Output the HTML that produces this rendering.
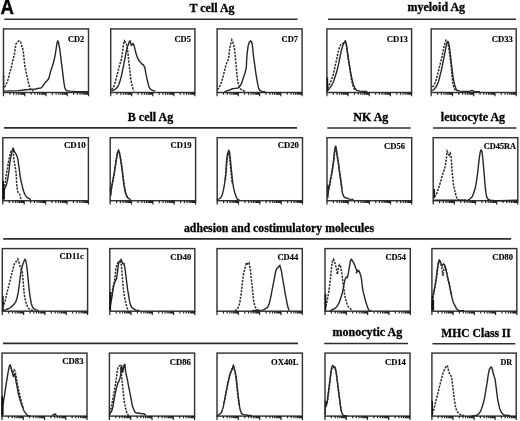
<!DOCTYPE html>
<html><head><meta charset="utf-8"><title>Flow cytometry histograms</title>
<style>
html,body{margin:0;padding:0;background:#fff;}
body{width:520px;height:421px;overflow:hidden;}
svg{display:block;filter:grayscale(1);}
.hl{stroke:#2e2e2e;stroke-width:1.6;}
.hd{font-family:"Liberation Serif",serif;font-weight:bold;font-size:12px;fill:#000;stroke:#000;stroke-width:0.3;}
.A{font-family:"Liberation Sans",sans-serif;font-weight:bold;font-size:20.6px;fill:#000;stroke:#000;stroke-width:0.45;}
.bx{fill:none;stroke:#333;stroke-width:1.45;}
.tk{fill:none;stroke:#222;stroke-width:1.2;}
.lb{font-family:"Liberation Serif",serif;font-weight:bold;fill:#000;stroke:#000;stroke-width:0.15;}
.cs{fill:none;stroke:#262626;stroke-width:1.4;stroke-linejoin:round;}
.cd{fill:none;stroke:#2a2a2a;stroke-width:1.5;stroke-dasharray:2.2 1.2;}
.cv{fill:none;stroke:#111;stroke-width:1.4;}
</style></head>
<body>
<svg width="520" height="421" viewBox="0 0 520 421">
<line x1="4.3" y1="19.2" x2="297.6" y2="19.2" class="hl"/>
<line x1="328" y1="19.3" x2="516" y2="19.3" class="hl"/>
<line x1="4" y1="127.9" x2="297" y2="127.9" class="hl"/>
<line x1="327.3" y1="128" x2="410.6" y2="128" class="hl"/>
<line x1="433" y1="128" x2="516.3" y2="128" class="hl"/>
<line x1="3.2" y1="238.9" x2="511.2" y2="238.9" class="hl"/>
<line x1="3" y1="343.4" x2="298" y2="343.4" class="hl"/>
<line x1="324.2" y1="343.5" x2="408" y2="343.5" class="hl"/>
<line x1="432.5" y1="343.7" x2="515.3" y2="343.7" class="hl"/>
<text x="189.5" y="11.5" class="hd">T cell Ag</text>
<text x="407.4" y="10.8" class="hd">myeloid Ag</text>
<text x="127.8" y="120.9" class="hd">B cell Ag</text>
<text x="353.3" y="120.8" class="hd">NK Ag</text>
<text x="440.8" y="121" class="hd">leucocyte Ag</text>
<text x="184" y="232" class="hd" textLength="190.0" lengthAdjust="spacingAndGlyphs">adhesion and costimulatory molecules</text>
<text x="332.5" y="336.4" class="hd">monocytic Ag</text>
<text x="441.3" y="336.9" class="hd" textLength="69.6" lengthAdjust="spacingAndGlyphs">MHC Class II</text>
<text transform="translate(0.55 14.25) scale(0.9 1)" class="A">A</text>
<rect x="3.5" y="28.9" width="85" height="63.6" class="bx"/>
<path d="M3.5 92.5v3.8M9.9 92.5v2.2M13.64 92.5v2.2M16.29 92.5v2.2M18.35 92.5v2.2M20.04 92.5v2.2M21.46 92.5v2.2M22.69 92.5v2.2M23.78 92.5v2.2M24.75 92.5v3.8M31.15 92.5v2.2M34.89 92.5v2.2M37.54 92.5v2.2M39.6 92.5v2.2M41.29 92.5v2.2M42.71 92.5v2.2M43.94 92.5v2.2M45.03 92.5v2.2M46 92.5v3.8M52.4 92.5v2.2M56.14 92.5v2.2M58.79 92.5v2.2M60.85 92.5v2.2M62.54 92.5v2.2M63.96 92.5v2.2M65.19 92.5v2.2M66.28 92.5v2.2M67.25 92.5v3.8M73.65 92.5v2.2M77.39 92.5v2.2M80.04 92.5v2.2M82.1 92.5v2.2M83.79 92.5v2.2M85.21 92.5v2.2M86.44 92.5v2.2M87.53 92.5v2.2M88.5 92.5v3.8" class="tk"/>
<text x="67.98" y="41.71" class="lb" style="font-size:8.55px" textLength="16.29" lengthAdjust="spacingAndGlyphs">CD2</text>
<polyline points="3.6,75.7 3.6,88 5.2,86.2 6.8,83 8.5,78.2 9.7,72.5 11.3,67.7 12.5,62 13.3,58.6 14.5,53.8 15.3,48.1 15.9,44.1 17.3,42.1 19,40.8 20.6,41.7 21.4,44.9 23.2,50.5 23.8,56.2 24.5,62.7 25,66.8 26.2,72.5 27.4,78.2 28.7,83.8 29.9,87.8 31.1,89.9 33.5,91.1" class="cd"/>
<polyline points="3.6,91.1 18.2,90.6 22.2,90.2 25.4,89.8 31.1,89.4 36,89.03 38.07,88.34 40.82,88.07 42.2,86.96 43.58,84.9 44.95,82.83 47.02,80.77 48.67,78.7 49.5,75.94 50.46,71.81 51.84,67.68 53.22,63.55 54.6,58.04 55.56,52.53 56.39,47.02 57.07,42.89 57.76,40.82 58.45,42.2 59.14,45.64 59.83,49.77 60.52,55.28 61.21,60.79 61.9,66.3 62.58,71.81 63.27,77.32 63.96,82.83 64.65,86.96 65.61,89.72 66.99,90.82 70.02,91.1 75,91.4 88,91.6" class="cs"/>
<rect x="110.7" y="28.9" width="84.2" height="63.6" class="bx"/>
<path d="M110.7 92.5v3.8M117.04 92.5v2.2M120.74 92.5v2.2M123.37 92.5v2.2M125.41 92.5v2.2M127.08 92.5v2.2M128.49 92.5v2.2M129.71 92.5v2.2M130.79 92.5v2.2M131.75 92.5v3.8M138.09 92.5v2.2M141.79 92.5v2.2M144.42 92.5v2.2M146.46 92.5v2.2M148.13 92.5v2.2M149.54 92.5v2.2M150.76 92.5v2.2M151.84 92.5v2.2M152.8 92.5v3.8M159.14 92.5v2.2M162.84 92.5v2.2M165.47 92.5v2.2M167.51 92.5v2.2M169.18 92.5v2.2M170.59 92.5v2.2M171.81 92.5v2.2M172.89 92.5v2.2M173.85 92.5v3.8M180.19 92.5v2.2M183.89 92.5v2.2M186.52 92.5v2.2M188.56 92.5v2.2M190.23 92.5v2.2M191.64 92.5v2.2M192.86 92.5v2.2M193.94 92.5v2.2M194.9 92.5v3.8" class="tk"/>
<text x="174.38" y="41.71" class="lb" style="font-size:8.7px" textLength="16.52" lengthAdjust="spacingAndGlyphs">CD5</text>
<polyline points="111.38,89.72 112.75,88.34 114.13,85.59 115.51,81.45 116.89,75.94 118.26,70.44 119.64,64.93 121.02,60.79 122.12,55.28 123.09,47.02 123.77,42.89 124.46,40.82 125.43,42.2 126.53,44.26 127.63,49.77 128.32,56.66 129.01,63.55 129.97,71.81 130.94,80.08 132.04,85.59 133.14,89.72 134.1,91.1" class="cd"/>
<polyline points="111.38,91.1 113.44,90.41 115.51,89.03 117.58,86.96 118.95,84.21 120.33,80.08 121.71,74.57 123.09,67.68 124.46,60.79 125.84,53.91 127.22,47.02 128.6,44.26 129.28,41.51 129.97,40.82 130.66,42.89 131.35,45.64 132.31,44.26 133.14,43.58 134.1,45.64 135.07,49.77 136.17,53.91 137.55,58.04 139.61,61.48 141.68,63.55 141.38,63.55 143.44,64.93 144.82,67.68 145.79,73.19 146.89,78.7 147.99,82.83 148.95,86.96 150.33,89.03 152.4,90.41 155.15,91.1" class="cs"/>
<rect x="217.1" y="28.9" width="85" height="63.6" class="bx"/>
<path d="M217.1 92.5v3.8M223.5 92.5v2.2M227.24 92.5v2.2M229.89 92.5v2.2M231.95 92.5v2.2M233.64 92.5v2.2M235.06 92.5v2.2M236.29 92.5v2.2M237.38 92.5v2.2M238.35 92.5v3.8M244.75 92.5v2.2M248.49 92.5v2.2M251.14 92.5v2.2M253.2 92.5v2.2M254.89 92.5v2.2M256.31 92.5v2.2M257.54 92.5v2.2M258.63 92.5v2.2M259.6 92.5v3.8M266 92.5v2.2M269.74 92.5v2.2M272.39 92.5v2.2M274.45 92.5v2.2M276.14 92.5v2.2M277.56 92.5v2.2M278.79 92.5v2.2M279.88 92.5v2.2M280.85 92.5v3.8M287.25 92.5v2.2M290.99 92.5v2.2M293.64 92.5v2.2M295.7 92.5v2.2M297.39 92.5v2.2M298.81 92.5v2.2M300.04 92.5v2.2M301.13 92.5v2.2M302.1 92.5v3.8" class="tk"/>
<text x="281.57" y="42.01" class="lb" style="font-size:8.78px" textLength="16.53" lengthAdjust="spacingAndGlyphs">CD7</text>
<polyline points="217.38,89.72 218.75,88.34 220.82,84.21 222.89,77.32 224.26,71.81 225.64,66.3 227.02,62.17 228.4,59.42 229.09,53.91 229.77,48.4 230.88,42.89 231.84,39.86 232.8,42.2 233.91,45.64 234.6,49.77 235.28,56.66 235.97,63.55 236.66,71.81 237.35,78.7 238.04,82.83 239.14,86.28 240.52,89.03 242.17,90.41 244.93,91.37" class="cd"/>
<polyline points="224.26,91.79 226.33,91.1 228.4,90.41 230.46,89.72 232.53,88.75 235.28,88.34 238.04,88.07 239.42,86.96 240.79,84.9 242.17,81.45 243.55,77.32 244.93,73.19 246.3,67.68 246.69,59.42 247.24,52.53 248.2,45.64 249.31,42.2 250.41,40.82 251.51,41.51 252.2,44.26 252.89,49.77 253.58,56.66 254.54,63.55 255.64,71.81 256.74,78.7 257.71,84.21 258.67,88.34 259.77,90.41 261.84,91.37 265.28,91.79" class="cs"/>
<rect x="326.9" y="28.9" width="84.7" height="63.6" class="bx"/>
<path d="M326.9 92.5v3.8M333.27 92.5v2.2M337 92.5v2.2M339.65 92.5v2.2M341.7 92.5v2.2M343.38 92.5v2.2M344.79 92.5v2.2M346.02 92.5v2.2M347.11 92.5v2.2M348.07 92.5v3.8M354.45 92.5v2.2M358.18 92.5v2.2M360.82 92.5v2.2M362.88 92.5v2.2M364.55 92.5v2.2M365.97 92.5v2.2M367.2 92.5v2.2M368.28 92.5v2.2M369.25 92.5v3.8M375.62 92.5v2.2M379.35 92.5v2.2M382 92.5v2.2M384.05 92.5v2.2M385.73 92.5v2.2M387.14 92.5v2.2M388.37 92.5v2.2M389.46 92.5v2.2M390.43 92.5v3.8M396.8 92.5v2.2M400.53 92.5v2.2M403.17 92.5v2.2M405.23 92.5v2.2M406.9 92.5v2.2M408.32 92.5v2.2M409.55 92.5v2.2M410.63 92.5v2.2M411.6 92.5v3.8" class="tk"/>
<text x="386.67" y="42.01" class="lb" style="font-size:8.55px" textLength="21.23" lengthAdjust="spacingAndGlyphs">CD13</text>
<polyline points="327.38,88.34 328.75,85.59 330.82,81.45 332.89,75.94 334.26,70.44 335.64,63.55 336.74,59.42 337.71,53.91 338.67,49.77 339.77,46.33 341.15,44.26 342.53,43.58 343.91,42.89 345.28,41.51 346.39,45.64 347.35,52.53 348.31,59.42 349.42,66.3 350.52,73.19 351.48,80.08 352.86,85.59 354.24,89.03 355.61,90.82" class="cd"/>
<polyline points="327.38,90.82 329.44,88.34 331.51,85.59 333.58,81.45 334.95,77.32 336.74,71.81 338.4,64.93 339.77,58.04 341.15,51.15 342.53,46.33 343.91,42.89 345.28,40.82 346.39,44.26 347.35,51.15 348.31,58.04 349.42,64.93 350.52,71.81 351.9,78.7 353.27,84.21 354.93,88.34 356.99,90.41 360.02,91.1 367.32,91.51" class="cs"/>
<polyline points="327.5,77.5 327.5,91.5" class="cv"/>
<rect x="431.2" y="28.9" width="85" height="63.6" class="bx"/>
<path d="M431.2 92.5v3.8M437.6 92.5v2.2M441.34 92.5v2.2M443.99 92.5v2.2M446.05 92.5v2.2M447.74 92.5v2.2M449.16 92.5v2.2M450.39 92.5v2.2M451.48 92.5v2.2M452.45 92.5v3.8M458.85 92.5v2.2M462.59 92.5v2.2M465.24 92.5v2.2M467.3 92.5v2.2M468.99 92.5v2.2M470.41 92.5v2.2M471.64 92.5v2.2M472.73 92.5v2.2M473.7 92.5v3.8M480.1 92.5v2.2M483.84 92.5v2.2M486.49 92.5v2.2M488.55 92.5v2.2M490.24 92.5v2.2M491.66 92.5v2.2M492.89 92.5v2.2M493.98 92.5v2.2M494.95 92.5v3.8M501.35 92.5v2.2M505.09 92.5v2.2M507.74 92.5v2.2M509.8 92.5v2.2M511.49 92.5v2.2M512.91 92.5v2.2M514.14 92.5v2.2M515.23 92.5v2.2M516.2 92.5v3.8" class="tk"/>
<text x="491.67" y="42.41" class="lb" style="font-size:8.85px" textLength="21.13" lengthAdjust="spacingAndGlyphs">CD33</text>
<polyline points="432.38,86.96 433.75,85.59 435.13,82.83 436.51,78.7 437.89,73.19 439.26,67.68 440.64,62.17 442.02,56.66 443.4,49.77 444.77,43.58 445.88,40.13 446.84,40.82 447.8,42.89 448.63,47.02 449.6,53.91 450.56,60.79 451.39,67.68 451.94,74.57 452.63,81.45 453.31,85.59 454.42,89.03 455.79,90.41 457.17,91.1" class="cd"/>
<polyline points="432.38,90.82 434.44,89.03 436.51,86.28 438.58,81.45 439.95,75.94 441.33,70.44 442.71,63.55 444.09,56.66 445.46,49.77 446.43,44.26 447.53,41.51 448.36,41.79 449.18,45.64 450.28,53.91 451.39,63.55 452.35,71.81 453.31,78.7 454.42,84.21 455.79,88.34 457.17,90.41 459.93,91.1 465.02,91.37 465,91.4 470,91.2 472,90.4 474,91.4 480,91.6" class="cs"/>
<rect x="2.8" y="137.7" width="85.6" height="63" class="bx"/>
<path d="M2.8 200.7v3.8M9.24 200.7v2.2M13.01 200.7v2.2M15.68 200.7v2.2M17.76 200.7v2.2M19.45 200.7v2.2M20.89 200.7v2.2M22.13 200.7v2.2M23.22 200.7v2.2M24.2 200.7v3.8M30.64 200.7v2.2M34.41 200.7v2.2M37.08 200.7v2.2M39.16 200.7v2.2M40.85 200.7v2.2M42.29 200.7v2.2M43.53 200.7v2.2M44.62 200.7v2.2M45.6 200.7v3.8M52.04 200.7v2.2M55.81 200.7v2.2M58.48 200.7v2.2M60.56 200.7v2.2M62.25 200.7v2.2M63.69 200.7v2.2M64.93 200.7v2.2M66.02 200.7v2.2M67 200.7v3.8M73.44 200.7v2.2M77.21 200.7v2.2M79.88 200.7v2.2M81.96 200.7v2.2M83.65 200.7v2.2M85.09 200.7v2.2M86.33 200.7v2.2M87.42 200.7v2.2M88.4 200.7v3.8" class="tk"/>
<text x="63.96" y="148.01" class="lb" style="font-size:8.67px" textLength="21.69" lengthAdjust="spacingAndGlyphs">CD10</text>
<polyline points="3,181 3,192 3.8,190.5 4.6,186.7 5.3,182.2 6.1,176.1 7.2,170 8.3,163 9.4,156.9 10.9,151.6 13,148.6 13.6,150 13.4,153.9 13.8,159.2 14.9,165.3 15.7,169.8 16.2,174.5 16.5,180 16.7,185.2 17.5,189.8 18.2,192.8 19.8,194.3 20.5,197.4 21.3,199.6" class="cd"/>
<polyline points="3,199 3.4,192 4.9,188.2 6.5,184.4 7.6,179.9 8.4,174.6 9.1,170 9.8,163 10.8,156.9 12,151.6 13.3,148.4 14.5,151.6 16.8,155.4 18,160 18.7,165.3 19.4,170 20.1,176.1 21.3,182.2 22.4,186.7 23.6,191.3 25.1,195.1 27.4,197.7 29.6,198.9 30.8,199.6" class="cs"/>
<polyline points="3.3,181 3.3,199.5" class="cv"/>
<polyline points="4.2,188 4.2,199.5" class="cv"/>
<rect x="110.2" y="137.7" width="85.4" height="63" class="bx"/>
<path d="M110.2 200.7v3.8M116.63 200.7v2.2M120.39 200.7v2.2M123.05 200.7v2.2M125.12 200.7v2.2M126.81 200.7v2.2M128.24 200.7v2.2M129.48 200.7v2.2M130.57 200.7v2.2M131.55 200.7v3.8M137.98 200.7v2.2M141.74 200.7v2.2M144.4 200.7v2.2M146.47 200.7v2.2M148.16 200.7v2.2M149.59 200.7v2.2M150.83 200.7v2.2M151.92 200.7v2.2M152.9 200.7v3.8M159.33 200.7v2.2M163.09 200.7v2.2M165.75 200.7v2.2M167.82 200.7v2.2M169.51 200.7v2.2M170.94 200.7v2.2M172.18 200.7v2.2M173.27 200.7v2.2M174.25 200.7v3.8M180.68 200.7v2.2M184.44 200.7v2.2M187.1 200.7v2.2M189.17 200.7v2.2M190.86 200.7v2.2M192.29 200.7v2.2M193.53 200.7v2.2M194.62 200.7v2.2M195.6 200.7v3.8" class="tk"/>
<text x="170.47" y="148.01" class="lb" style="font-size:8.55px" textLength="21.03" lengthAdjust="spacingAndGlyphs">CD19</text>
<polyline points="110.18,188.14 110.89,195.27 111.42,188.14 112.31,182.79 114.08,173.92 115.85,161.54 117.26,153.58 118.5,150.04 119.74,154.46 121.15,163.31 122.57,173.92 123.81,184.58 125.58,193.49 127.35,197.41 129.12,198.83 130.88,199.19" class="cs"/>
<polyline points="111.42,189.03 112.66,182.44 114.43,173.04 116.2,161.18 117.62,153.05 118.68,150.57 120.09,154.82 121.51,163.66 122.92,174.81 124.16,184.93 125.93,193.84 127.7,197.58" class="cd"/>
<rect x="217.2" y="137.7" width="85.3" height="63" class="bx"/>
<path d="M217.2 200.7v3.8M223.62 200.7v2.2M227.37 200.7v2.2M230.04 200.7v2.2M232.11 200.7v2.2M233.79 200.7v2.2M235.22 200.7v2.2M236.46 200.7v2.2M237.55 200.7v2.2M238.52 200.7v3.8M244.94 200.7v2.2M248.7 200.7v2.2M251.36 200.7v2.2M253.43 200.7v2.2M255.12 200.7v2.2M256.55 200.7v2.2M257.78 200.7v2.2M258.87 200.7v2.2M259.85 200.7v3.8M266.27 200.7v2.2M270.02 200.7v2.2M272.69 200.7v2.2M274.76 200.7v2.2M276.44 200.7v2.2M277.87 200.7v2.2M279.11 200.7v2.2M280.2 200.7v2.2M281.18 200.7v3.8M287.59 200.7v2.2M291.35 200.7v2.2M294.01 200.7v2.2M296.08 200.7v2.2M297.77 200.7v2.2M299.2 200.7v2.2M300.43 200.7v2.2M301.52 200.7v2.2M302.5 200.7v3.8" class="tk"/>
<text x="277.77" y="148.31" class="lb" style="font-size:8.52px" textLength="21.17" lengthAdjust="spacingAndGlyphs">CD20</text>
<polyline points="216.69,199.37 218.07,199.1 219.44,198.82 220.82,197.72 222.2,194.96 223.58,189.45 224.54,183.94 225.37,177.06 225.92,171.55 226.33,164.66 226.74,159.15 227.29,155.02 228.12,152.26 228.81,150.2 229.5,152.26 230.05,156.4 230.6,161.91 231.15,167.42 231.84,174.3 232.53,181.19 233.63,188.08 234.6,192.21 235.97,196.34 237.35,199.1 239.42,199.79" class="cs"/>
<polyline points="225.37,179.81 226.06,172.93 226.61,166.04 227.16,159.15 227.85,155.02 228.67,152.95 229.36,155.02 229.91,159.84 230.46,166.04 231.01,171.55 231.56,177.75 232.25,183.94" class="cd"/>
<rect x="327" y="137.7" width="84.7" height="63" class="bx"/>
<path d="M327 200.7v3.8M333.37 200.7v2.2M337.1 200.7v2.2M339.75 200.7v2.2M341.8 200.7v2.2M343.48 200.7v2.2M344.89 200.7v2.2M346.12 200.7v2.2M347.21 200.7v2.2M348.18 200.7v3.8M354.55 200.7v2.2M358.28 200.7v2.2M360.92 200.7v2.2M362.98 200.7v2.2M364.65 200.7v2.2M366.07 200.7v2.2M367.3 200.7v2.2M368.38 200.7v2.2M369.35 200.7v3.8M375.72 200.7v2.2M379.45 200.7v2.2M382.1 200.7v2.2M384.15 200.7v2.2M385.83 200.7v2.2M387.24 200.7v2.2M388.47 200.7v2.2M389.56 200.7v2.2M390.52 200.7v3.8M396.9 200.7v2.2M400.63 200.7v2.2M403.27 200.7v2.2M405.33 200.7v2.2M407 200.7v2.2M408.42 200.7v2.2M409.65 200.7v2.2M410.73 200.7v2.2M411.7 200.7v3.8" class="tk"/>
<text x="383.97" y="148.71" class="lb" style="font-size:8.7px" textLength="21.08" lengthAdjust="spacingAndGlyphs">CD56</text>
<polyline points="327.79,184.63 327.79,197.72 328.48,190.83 329.44,185.32 330.41,179.81 331.51,174.3 332.61,167.42 333.58,160.53 334.26,153.64 334.95,148.13 335.64,146.07 336.33,149.51 337.02,155.02 337.71,159.15 338.4,163.28 339.09,168.79 339.77,174.3 340.46,178.44 341.15,183.94 341.84,189.45 342.53,193.59 343.63,196.34 345.28,197.72 347.35,198.41 349.42,199.1 353.55,199.37" class="cs"/>
<polyline points="328.75,189.45 329.72,184.63 330.82,179.12 331.92,173.2 332.89,166.73 333.85,159.84 334.54,153.64 335.23,148.82 335.92,147.86 336.61,150.89 337.29,155.71 337.98,159.84 338.67,164.39 339.36,169.48 340.05,174.58 340.74,179.12 341.43,184.63 342.12,190.14" class="cd"/>
<rect x="433.2" y="137.7" width="84.6" height="63" class="bx"/>
<path d="M433.2 200.7v3.8M439.57 200.7v2.2M443.29 200.7v2.2M445.93 200.7v2.2M447.98 200.7v2.2M449.66 200.7v2.2M451.07 200.7v2.2M452.3 200.7v2.2M453.38 200.7v2.2M454.35 200.7v3.8M460.72 200.7v2.2M464.44 200.7v2.2M467.08 200.7v2.2M469.13 200.7v2.2M470.81 200.7v2.2M472.22 200.7v2.2M473.45 200.7v2.2M474.53 200.7v2.2M475.5 200.7v3.8M481.87 200.7v2.2M485.59 200.7v2.2M488.23 200.7v2.2M490.28 200.7v2.2M491.96 200.7v2.2M493.37 200.7v2.2M494.6 200.7v2.2M495.68 200.7v2.2M496.65 200.7v3.8M503.02 200.7v2.2M506.74 200.7v2.2M509.38 200.7v2.2M511.43 200.7v2.2M513.11 200.7v2.2M514.52 200.7v2.2M515.75 200.7v2.2M516.83 200.7v2.2M517.8 200.7v3.8" class="tk"/>
<text x="483.78" y="148.93" class="lb" style="font-size:7.2px" textLength="32.29" lengthAdjust="spacingAndGlyphs">CD45RA</text>
<polyline points="434.07,196.65 435.44,195.96 436.82,193.21 438.2,189.08 439.58,184.94 440.95,180.81 442.33,175.3 443.71,171.17 445.09,167.04 445.77,162.91 446.46,157.4 447.15,151.2 448.25,153.26 449.22,155.33 450.18,153.26 451.01,156.02 451.56,162.91 451.97,169.79 452.66,176.68 453.35,183.57 454.31,189.08 455.42,193.21 456.52,197.34 457.48,199.41 459.55,200.1 466.02,200.37" class="cd"/>
<polyline points="434.2,200.2 466,200.3 466,200.79 468.07,200.1 470.13,198.72 472.2,196.65 473.58,193.21 474.95,189.08 475.92,184.94 476.74,179.44 477.71,172.55 478.4,165.66 479.09,160.15 479.77,154.64 480.46,151.2 481.15,149.82 481.84,151.2 482.53,156.02 483.22,162.91 483.91,171.17 484.6,179.44 485.28,187.7 485.97,193.21 486.66,196.65 487.76,198.99 490.1,200.1 493.55,200.51 500.02,200.79 517,200.3" class="cs"/>
<polyline points="434.3,189 434.3,198" class="cv"/>
<rect x="2.3" y="248.6" width="85.3" height="62.6" class="bx"/>
<path d="M2.3 311.2v3.8M8.72 311.2v2.2M12.47 311.2v2.2M15.14 311.2v2.2M17.21 311.2v2.2M18.89 311.2v2.2M20.32 311.2v2.2M21.56 311.2v2.2M22.65 311.2v2.2M23.62 311.2v3.8M30.04 311.2v2.2M33.8 311.2v2.2M36.46 311.2v2.2M38.53 311.2v2.2M40.22 311.2v2.2M41.65 311.2v2.2M42.88 311.2v2.2M43.97 311.2v2.2M44.95 311.2v3.8M51.37 311.2v2.2M55.12 311.2v2.2M57.79 311.2v2.2M59.86 311.2v2.2M61.54 311.2v2.2M62.97 311.2v2.2M64.21 311.2v2.2M65.3 311.2v2.2M66.27 311.2v3.8M72.69 311.2v2.2M76.45 311.2v2.2M79.11 311.2v2.2M81.18 311.2v2.2M82.87 311.2v2.2M84.3 311.2v2.2M85.53 311.2v2.2M86.62 311.2v2.2M87.6 311.2v3.8" class="tk"/>
<text x="59.57" y="259.31" class="lb" style="font-size:8.55px" textLength="24.33" lengthAdjust="spacingAndGlyphs">CD11c</text>
<polyline points="3.1,301.83 3.38,306.65 4.07,303.9 5.03,301.83 5.86,297.7 6.82,293.57 7.79,289.44 8.61,286.68 9.58,282.55 10.54,278.42 11.64,274.28 12.74,270.15 13.71,266.02 14.67,263.26 15.77,261.89 16.88,261.2 17.84,259.13 18.8,261.2 19.63,264.64 20.6,268.09 21.56,269.46 22.39,272.91 22.94,278.42 23.35,283.93 23.76,289.44 24.31,294.94 25.14,299.08 26.1,303.21 27.48,306.65 28.86,308.72 30.93,310.1 32.99,310.51" class="cd"/>
<polyline points="3.1,310.37 5.44,309.82 7.51,308.99 9.58,308.03 11.64,306.65 13.71,304.59 15.77,301.83 17.15,297.7 18.25,292.19 19.22,285.3 19.91,279.79 20.6,274.28 21.28,270.15 21.97,267.4 22.66,264.64 23.76,261.89 24.73,259.13 25.69,260.51 26.52,264.64 27.21,270.15 27.9,277.04 28.58,283.93 29.27,290.81 30.24,297.7 31.2,303.21 32.3,306.65 33.68,308.72 36.02,309.82 38.5,310.37" class="cs"/>
<polyline points="3,296 3,310.5" class="cv"/>
<rect x="109.8" y="248.6" width="85" height="62.6" class="bx"/>
<path d="M109.8 311.2v3.8M116.2 311.2v2.2M119.94 311.2v2.2M122.59 311.2v2.2M124.65 311.2v2.2M126.34 311.2v2.2M127.76 311.2v2.2M128.99 311.2v2.2M130.08 311.2v2.2M131.05 311.2v3.8M137.45 311.2v2.2M141.19 311.2v2.2M143.84 311.2v2.2M145.9 311.2v2.2M147.59 311.2v2.2M149.01 311.2v2.2M150.24 311.2v2.2M151.33 311.2v2.2M152.3 311.2v3.8M158.7 311.2v2.2M162.44 311.2v2.2M165.09 311.2v2.2M167.15 311.2v2.2M168.84 311.2v2.2M170.26 311.2v2.2M171.49 311.2v2.2M172.58 311.2v2.2M173.55 311.2v3.8M179.95 311.2v2.2M183.69 311.2v2.2M186.34 311.2v2.2M188.4 311.2v2.2M190.09 311.2v2.2M191.51 311.2v2.2M192.74 311.2v2.2M193.83 311.2v2.2M194.8 311.2v3.8" class="tk"/>
<text x="170.27" y="259.71" class="lb" style="font-size:8.67px" textLength="20.97" lengthAdjust="spacingAndGlyphs">CD40</text>
<polyline points="109.83,294.94 110.1,304.59 111.07,296.32 112.03,292.19 113.13,286.68 114.23,282.55 115.2,275.66 115.89,268.77 116.99,264.64 117.95,262.58 119.33,261.89 120.29,261.2 121.12,263.26 121.67,268.77 122.22,275.66 122.77,282.55 123.46,289.44 124.15,294.94 125.25,300.45 126.22,304.59 127.18,308.03 128.28,310.1" class="cd"/>
<polyline points="109.69,310.1 110.38,305.96 111.07,301.83 112.03,296.32 112.86,290.81 113.82,285.3 115.2,281.17 116.58,278.42 117.54,271.53 118.37,264.64 119.33,261.2 120.29,261.89 121.12,259.13 122.09,261.89 123.05,263.95 123.88,263.26 124.84,267.4 125.53,272.91 126.22,278.42 126.91,283.93 127.6,289.44 128.56,294.94 129.39,300.45 130.35,304.59 131.73,307.34 133.79,308.99 135.86,310.1 139.3,310.51" class="cs"/>
<polyline points="110.4,292 110.4,310.5" class="cv"/>
<rect x="217" y="248.6" width="85.3" height="62.6" class="bx"/>
<path d="M217 311.2v3.8M223.42 311.2v2.2M227.17 311.2v2.2M229.84 311.2v2.2M231.91 311.2v2.2M233.59 311.2v2.2M235.02 311.2v2.2M236.26 311.2v2.2M237.35 311.2v2.2M238.32 311.2v3.8M244.74 311.2v2.2M248.5 311.2v2.2M251.16 311.2v2.2M253.23 311.2v2.2M254.92 311.2v2.2M256.35 311.2v2.2M257.58 311.2v2.2M258.67 311.2v2.2M259.65 311.2v3.8M266.07 311.2v2.2M269.82 311.2v2.2M272.49 311.2v2.2M274.56 311.2v2.2M276.24 311.2v2.2M277.67 311.2v2.2M278.91 311.2v2.2M280 311.2v2.2M280.98 311.2v3.8M287.39 311.2v2.2M291.15 311.2v2.2M293.81 311.2v2.2M295.88 311.2v2.2M297.57 311.2v2.2M299 311.2v2.2M300.23 311.2v2.2M301.32 311.2v2.2M302.3 311.2v3.8" class="tk"/>
<text x="277.47" y="259.92" class="lb" style="font-size:8.48px" textLength="20.79" lengthAdjust="spacingAndGlyphs">CD44</text>
<polyline points="234.82,310.37 236.2,310.1 237.58,308.72 238.95,305.96 239.92,301.83 240.74,296.32 241.71,289.44 242.4,282.55 243.09,277.04 243.77,272.91 244.88,268.77 245.84,264.64 246.25,262.58 247.22,263.95 248.18,263.26 249.01,262.58 249.56,266.02 250.39,270.15 250.94,275.66 251.76,282.55 252.45,289.44 253.14,296.32 253.83,301.83 254.79,305.96 255.9,308.03 256.86,309.41 258.24,310.1 259.61,310.37" class="cd"/>
<polyline points="252,310.6 257,310.4 262,310.1 263.38,309.82 265.44,308.72 267.51,307.34 268.89,304.59 269.99,300.45 270.95,296.32 271.92,290.81 273.02,285.3 274.12,279.79 275.09,274.28 276.05,270.15 277.15,268.09 278.25,267.4 279.22,266.02 279.91,265.33 280.6,268.09 281.56,271.53 282.39,277.04 283.35,282.55 284.31,288.06 285.42,294.94 286.52,300.45 287.48,305.28 288.45,308.72 289.27,310.51" class="cs"/>
<rect x="325" y="248.6" width="85.3" height="62.6" class="bx"/>
<path d="M325 311.2v3.8M331.42 311.2v2.2M335.17 311.2v2.2M337.84 311.2v2.2M339.91 311.2v2.2M341.59 311.2v2.2M343.02 311.2v2.2M344.26 311.2v2.2M345.35 311.2v2.2M346.32 311.2v3.8M352.74 311.2v2.2M356.5 311.2v2.2M359.16 311.2v2.2M361.23 311.2v2.2M362.92 311.2v2.2M364.35 311.2v2.2M365.58 311.2v2.2M366.67 311.2v2.2M367.65 311.2v3.8M374.07 311.2v2.2M377.82 311.2v2.2M380.49 311.2v2.2M382.56 311.2v2.2M384.24 311.2v2.2M385.67 311.2v2.2M386.91 311.2v2.2M388 311.2v2.2M388.98 311.2v3.8M395.39 311.2v2.2M399.15 311.2v2.2M401.81 311.2v2.2M403.88 311.2v2.2M405.57 311.2v2.2M407 311.2v2.2M408.23 311.2v2.2M409.32 311.2v2.2M410.3 311.2v3.8" class="tk"/>
<text x="385.48" y="260.01" class="lb" style="font-size:8.7px" textLength="20.58" lengthAdjust="spacingAndGlyphs">CD54</text>
<polyline points="325.28,294.94 325.41,307.34 326.65,303.21 327.75,297.7 328.86,290.81 329.82,283.93 330.79,275.66 331.61,267.4 332.58,260.51 333.54,259.13 334.64,261.89 335.74,266.02 336.71,270.15 337.4,274.28 338.09,270.15 338.77,266.02 339.46,264.64 340.43,266.02 341.25,270.15 342.22,275.66 342.91,282.55 344.01,289.44 344.97,296.32 346.35,301.83 347.73,305.96 349.52,308.03 351.17,309.41 352.55,310.1" class="cd"/>
<polyline points="329.82,310.79 331.2,310.51 332.58,309.41 334.64,308.72 336.71,306.65 338.09,304.59 339.46,301.83 340.84,297.7 342.22,293.57 343.32,288.06 344.28,282.55 345.39,278.42 346.35,277.04 347.31,277.73 348.42,272.91 349.52,266.02 350.48,260.51 351.45,259.13 352.55,261.2 353.93,263.26 355.03,266.02 355.99,268.77 356.96,270.84 358.06,270.15 356.38,272.91 357.07,270.15 357.75,271.53 358.86,270.84 359.82,272.91 360.79,275.66 361.61,279.79 362.16,285.3 362.99,290.81 364.37,296.32 365.74,301.83 367.12,305.96 368.5,309.41 369.46,310.79 371.53,310.92" class="cs"/>
<polyline points="325.6,294 325.6,310.5" class="cv"/>
<rect x="431.9" y="248.6" width="84.9" height="62.6" class="bx"/>
<path d="M431.9 311.2v3.8M438.29 311.2v2.2M442.03 311.2v2.2M444.68 311.2v2.2M446.74 311.2v2.2M448.42 311.2v2.2M449.84 311.2v2.2M451.07 311.2v2.2M452.15 311.2v2.2M453.12 311.2v3.8M459.51 311.2v2.2M463.25 311.2v2.2M465.9 311.2v2.2M467.96 311.2v2.2M469.64 311.2v2.2M471.06 311.2v2.2M472.29 311.2v2.2M473.38 311.2v2.2M474.35 311.2v3.8M480.74 311.2v2.2M484.48 311.2v2.2M487.13 311.2v2.2M489.19 311.2v2.2M490.87 311.2v2.2M492.29 311.2v2.2M493.52 311.2v2.2M494.6 311.2v2.2M495.57 311.2v3.8M501.96 311.2v2.2M505.7 311.2v2.2M508.35 311.2v2.2M510.41 311.2v2.2M512.09 311.2v2.2M513.51 311.2v2.2M514.74 311.2v2.2M515.83 311.2v2.2M516.8 311.2v3.8" class="tk"/>
<text x="492.28" y="259.72" class="lb" style="font-size:8.45px" textLength="20.76" lengthAdjust="spacingAndGlyphs">CD80</text>
<polyline points="431.69,309.41 432.1,299.08 433.07,294.94 434.03,290.81 435.13,285.3 436.23,278.42 437.2,270.15 438.16,263.26 439.26,259.82 440.37,261.2 441.33,264.64 442.29,266.02 443.4,263.95 444.5,264.64 445.46,267.4 446.43,271.53 447.25,275.66 448.22,279.79 449.18,283.93 450.28,289.44 451.39,294.94 452.35,299.08 453.31,302.52 454.42,304.59 455.52,306.65 456.48,308.72 457.86,310.1 459.93,310.51 464.06,310.65" class="cs"/>
<polyline points="432.38,301.83 433.48,294.94 434.58,289.44 435.68,283.24 436.79,275.66 437.75,268.09 438.71,262.58 439.54,261.2 440.64,263.26 441.47,266.02 442.02,268.77 442.57,274.28 443.12,275.66 443.67,270.15 444.36,267.4 445.19,266.71 445.88,268.77 446.56,272.22 447.39,276.35 448.36,280.48 449.46,285.03 450.56,290.54 451.66,295.91" class="cd"/>
<polyline points="432.6,296 432.6,310.5" class="cv"/>
<polyline points="433.4,300 433.4,310.5" class="cv"/>
<rect x="2" y="353.1" width="85" height="63" class="bx"/>
<path d="M2 416.1v3.8M8.4 416.1v2.2M12.14 416.1v2.2M14.79 416.1v2.2M16.85 416.1v2.2M18.54 416.1v2.2M19.96 416.1v2.2M21.19 416.1v2.2M22.28 416.1v2.2M23.25 416.1v3.8M29.65 416.1v2.2M33.39 416.1v2.2M36.04 416.1v2.2M38.1 416.1v2.2M39.79 416.1v2.2M41.21 416.1v2.2M42.44 416.1v2.2M43.53 416.1v2.2M44.5 416.1v3.8M50.9 416.1v2.2M54.64 416.1v2.2M57.29 416.1v2.2M59.35 416.1v2.2M61.04 416.1v2.2M62.46 416.1v2.2M63.69 416.1v2.2M64.78 416.1v2.2M65.75 416.1v3.8M72.15 416.1v2.2M75.89 416.1v2.2M78.54 416.1v2.2M80.6 416.1v2.2M82.29 416.1v2.2M83.71 416.1v2.2M84.94 416.1v2.2M86.03 416.1v2.2M87 416.1v3.8" class="tk"/>
<text x="62.26" y="364.31" class="lb" style="font-size:8.52px" textLength="21.34" lengthAdjust="spacingAndGlyphs">CD83</text>
<polyline points="1.69,415.1 2.1,402.7 2.65,405.45 3.48,401.32 4.44,395.81 5.41,388.93 6.51,382.04 7.61,375.15 8.58,369.64 9.54,365.51 10.37,364.82 10.92,366.89 11.74,371.02 12.71,373.77 13.4,376.53 14.09,375.15 14.77,373.77 15.46,377.91 16.15,382.04 17.25,387.55 18.22,393.06 19.6,398.57 20.97,402.7 22.35,406.83 23.73,410.28 25.1,412.34 26.48,414.41 27.86,415.79 30.61,416.06" class="cs"/>
<polyline points="10.92,367.58 12.02,369.92 13.12,371.71 14.09,369.64 15.05,371.02 15.88,375.15 16.56,379.28 17.39,384.1 18.36,388.93 19.32,393.06 20.28,396.91 21.25,401.05 22.21,404.77 23.31,408.21" class="cd"/>
<polyline points="52.19,415.65 54.85,413.85 56.62,415.65" class="cs"/>
<polyline points="2.2,396 2.2,415.5" class="cv"/>
<polyline points="2.9,398 2.9,415.5" class="cv"/>
<rect x="109.4" y="353.1" width="85.2" height="63" class="bx"/>
<path d="M109.4 416.1v3.8M115.81 416.1v2.2M119.56 416.1v2.2M122.22 416.1v2.2M124.29 416.1v2.2M125.97 416.1v2.2M127.4 416.1v2.2M128.64 416.1v2.2M129.73 416.1v2.2M130.7 416.1v3.8M137.11 416.1v2.2M140.86 416.1v2.2M143.52 416.1v2.2M145.59 416.1v2.2M147.27 416.1v2.2M148.7 416.1v2.2M149.94 416.1v2.2M151.03 416.1v2.2M152 416.1v3.8M158.41 416.1v2.2M162.16 416.1v2.2M164.82 416.1v2.2M166.89 416.1v2.2M168.57 416.1v2.2M170 416.1v2.2M171.24 416.1v2.2M172.33 416.1v2.2M173.3 416.1v3.8M179.71 416.1v2.2M183.46 416.1v2.2M186.12 416.1v2.2M188.19 416.1v2.2M189.87 416.1v2.2M191.3 416.1v2.2M192.54 416.1v2.2M193.63 416.1v2.2M194.6 416.1v3.8" class="tk"/>
<text x="169.67" y="364.51" class="lb" style="font-size:8.67px" textLength="21.19" lengthAdjust="spacingAndGlyphs">CD86</text>
<polyline points="109.69,413.03 110.38,410.96 111.48,406.83 112.44,401.32 113.41,395.81 114.51,390.3 115.61,383.42 116.58,376.53 117.26,371.02 117.95,367.58 118.92,366.2 120.02,365.51 120.71,366.89 121.12,371.02 121.67,376.53 122.22,382.04 122.77,387.55 123.46,394.44 124.15,401.32 125.25,406.83 126.22,410.96 127.18,413.72 128.28,415.1 129.66,415.65" class="cd"/>
<polyline points="109,415.37 110.38,413.03 111.75,410.96 112.86,406.83 113.82,401.32 114.79,395.81 115.89,390.3 116.99,386.17 117.95,382.73 118.92,381.35 120.02,377.91 120.71,375.15 121.12,368.26 121.67,365.51 122.22,369.64 122.77,372.4 123.46,368.26 124.15,364.82 124.84,364.13 125.25,368.26 125.8,372.4 126.63,376.53 127.6,380.66 128.56,386.17 129.66,391.68 130.76,397.19 131.73,402.7 132.69,406.83 133.79,409.59 135.17,412.34 136.55,413.03 138.61,413.03 140.68,413.44 143.02,413.72 144,413.7 146,415.5" class="cs"/>
<rect x="217" y="353.1" width="85.4" height="63" class="bx"/>
<path d="M217 416.1v3.8M223.43 416.1v2.2M227.19 416.1v2.2M229.85 416.1v2.2M231.92 416.1v2.2M233.61 416.1v2.2M235.04 416.1v2.2M236.28 416.1v2.2M237.37 416.1v2.2M238.35 416.1v3.8M244.78 416.1v2.2M248.54 416.1v2.2M251.2 416.1v2.2M253.27 416.1v2.2M254.96 416.1v2.2M256.39 416.1v2.2M257.63 416.1v2.2M258.72 416.1v2.2M259.7 416.1v3.8M266.13 416.1v2.2M269.89 416.1v2.2M272.55 416.1v2.2M274.62 416.1v2.2M276.31 416.1v2.2M277.74 416.1v2.2M278.98 416.1v2.2M280.07 416.1v2.2M281.05 416.1v3.8M287.48 416.1v2.2M291.24 416.1v2.2M293.9 416.1v2.2M295.97 416.1v2.2M297.66 416.1v2.2M299.09 416.1v2.2M300.33 416.1v2.2M301.42 416.1v2.2M302.4 416.1v3.8" class="tk"/>
<text x="271.07" y="364.72" class="lb" style="font-size:8.45px" textLength="27.4" lengthAdjust="spacingAndGlyphs">OX40L</text>
<polyline points="216.89,415.65 219.19,414.57 221.49,412.39 223.26,406.94 225.03,397.86 226.8,388.92 228.57,380.08 230.34,373 232.11,369.46 233.35,365.04 234.23,369.46 235.12,371.23 236.35,378.31 237.42,388.92 238.65,399.68 239.89,408.76 241.31,413.3 243.43,414.57 248.38,415.3 251.92,415.65" class="cs"/>
<polyline points="223.97,403.31 225.74,393.88 227.51,385.03 229.28,376.54 231.05,371.58 232.46,367.69 233.7,366.81 234.76,370.88 235.82,376.54 236.88,386.27 237.95,396.41 239.18,405.49" class="cd"/>
<rect x="325" y="353.1" width="85" height="63" class="bx"/>
<path d="M325 416.1v3.8M331.4 416.1v2.2M335.14 416.1v2.2M337.79 416.1v2.2M339.85 416.1v2.2M341.54 416.1v2.2M342.96 416.1v2.2M344.19 416.1v2.2M345.28 416.1v2.2M346.25 416.1v3.8M352.65 416.1v2.2M356.39 416.1v2.2M359.04 416.1v2.2M361.1 416.1v2.2M362.79 416.1v2.2M364.21 416.1v2.2M365.44 416.1v2.2M366.53 416.1v2.2M367.5 416.1v3.8M373.9 416.1v2.2M377.64 416.1v2.2M380.29 416.1v2.2M382.35 416.1v2.2M384.04 416.1v2.2M385.46 416.1v2.2M386.69 416.1v2.2M387.78 416.1v2.2M388.75 416.1v3.8M395.15 416.1v2.2M398.89 416.1v2.2M401.54 416.1v2.2M403.6 416.1v2.2M405.29 416.1v2.2M406.71 416.1v2.2M407.94 416.1v2.2M409.03 416.1v2.2M410 416.1v3.8" class="tk"/>
<text x="384.97" y="364.71" class="lb" style="font-size:8.55px" textLength="20.89" lengthAdjust="spacingAndGlyphs">CD14</text>
<polyline points="325.1,415.1 325.52,401.32 325.93,406.83 326.75,404.08 327.44,399.94 328.13,394.44 328.82,388.93 329.51,383.42 330.2,377.91 330.89,372.4 331.58,367.58 332.54,365.51 333.64,366.2 334.33,367.58 335.02,366.89 335.71,369.64 336.4,373.77 337.09,379.28 337.77,384.79 338.46,390.3 339.15,395.81 339.84,401.32 340.53,406.83 341.22,410.96 342.18,413.72 343.28,415.1 344.66,415.79 347.42,416.06" class="cs"/>
<polyline points="327.03,403.39 327.86,398.57 328.55,393.06 329.23,387.55 329.92,382.04 330.61,376.25 331.3,371.02 332.13,367.58 333.09,366.61 334.06,367.58 334.88,367.99 335.71,370.74 336.53,374.88 337.22,380.39 337.91,385.9 338.6,391.4 339.29,396.91 339.98,402.01 340.67,407.11 341.49,410.96" class="cd"/>
<rect x="431.9" y="353.1" width="84.3" height="63" class="bx"/>
<path d="M431.9 416.1v3.8M438.24 416.1v2.2M441.96 416.1v2.2M444.59 416.1v2.2M446.63 416.1v2.2M448.3 416.1v2.2M449.71 416.1v2.2M450.93 416.1v2.2M452.01 416.1v2.2M452.98 416.1v3.8M459.32 416.1v2.2M463.03 416.1v2.2M465.66 416.1v2.2M467.71 416.1v2.2M469.37 416.1v2.2M470.79 416.1v2.2M472.01 416.1v2.2M473.09 416.1v2.2M474.05 416.1v3.8M480.39 416.1v2.2M484.11 416.1v2.2M486.74 416.1v2.2M488.78 416.1v2.2M490.45 416.1v2.2M491.86 416.1v2.2M493.08 416.1v2.2M494.16 416.1v2.2M495.12 416.1v3.8M501.47 416.1v2.2M505.18 416.1v2.2M507.81 416.1v2.2M509.86 416.1v2.2M511.52 416.1v2.2M512.94 416.1v2.2M514.16 416.1v2.2M515.24 416.1v2.2M516.2 416.1v3.8" class="tk"/>
<text x="500.44" y="364.8" class="lb" style="font-size:8.57px" textLength="11.82" lengthAdjust="spacingAndGlyphs">DR</text>
<polyline points="432.1,413.99 433.48,410.96 434.44,406.83 435.41,402.7 436.51,398.57 437.61,394.44 438.58,390.3 439.54,386.17 440.64,382.04 441.74,377.91 442.71,373.77 444.09,370.33 445.46,367.58 446.84,365.51 447.8,366.89 448.63,371.02 449.6,373.77 450.97,375.84 451.66,377.22 452.35,383.42 453.04,388.93 453.73,394.44 454.42,399.94 455.1,404.08 455.79,408.21 456.9,410.96 458.27,413.03 459.93,414.41 461.99,415.1 464.06,415.51" class="cd"/>
<polyline points="471.38,415.92 474.13,415.79 476.89,415.1 478.95,413.72 480.33,411.65 481.71,408.21 483.09,404.08 484.46,398.57 485.43,393.06 486.25,387.55 487.22,382.04 488.18,375.15 489.28,369.64 490.39,367.58 491.35,366.89 492.04,368.26 492.73,371.02 493.42,373.77 494.1,376.53 494.79,377.91 495.48,382.04 496.17,387.55 496.86,393.06 497.55,398.57 498.65,404.08 499.61,408.21 500.99,411.65 502.37,413.72 504.02,414.82 506,415.2 510,415.5" class="cs"/>
<polyline points="432.3,401 432.3,415.5" class="cv"/>
</svg>
</body></html>
